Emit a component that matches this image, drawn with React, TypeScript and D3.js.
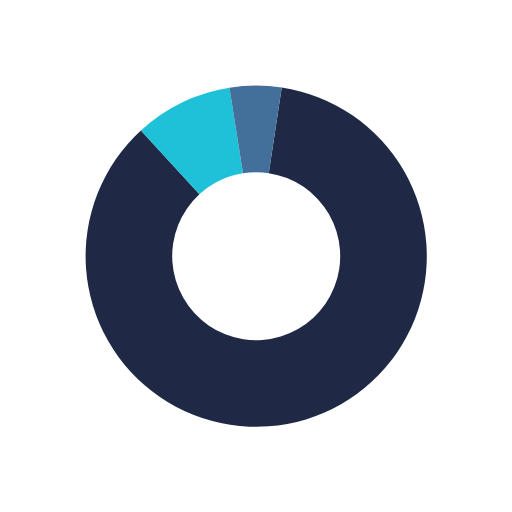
import React from "react";
import * as d3 from "d3";

const categories = ["A", "B", "C"];
const values = [85.8, 9.3, 4.9];
const colors = ["#1f2946", "#1fc1d8", "#436f9b"];

const W = 512;
const H = 512;
const cx = 256.2;
const cy = 256.2;
const outerR = 170.6;
const innerR = 84;
const startDeg = 8.6;

export default function App() {
  const data = categories.map((c, i) => ({ c, v: values[i], color: colors[i] }));
  const start = (startDeg * Math.PI) / 180;
  const pie = d3
    .pie<{ c: string; v: number; color: string }>()
    .sort(null)
    .value((d) => d.v)
    .startAngle(start)
    .endAngle(start + 2 * Math.PI);
  const arc = d3
    .arc<d3.PieArcDatum<{ c: string; v: number; color: string }>>()
    .innerRadius(innerR)
    .outerRadius(outerR);
  const arcs = pie(data);
  return (
    <svg
      width={W}
      height={H}
      style={{ position: "absolute", left: 0, top: 0, background: "#ffffff" }}
    >
      <g transform={`translate(${cx},${cy})`}>
        {arcs.map((a) => (
          <path key={a.data.c} d={arc(a) || ""} fill={a.data.color} />
        ))}
      </g>
    </svg>
  );
}
